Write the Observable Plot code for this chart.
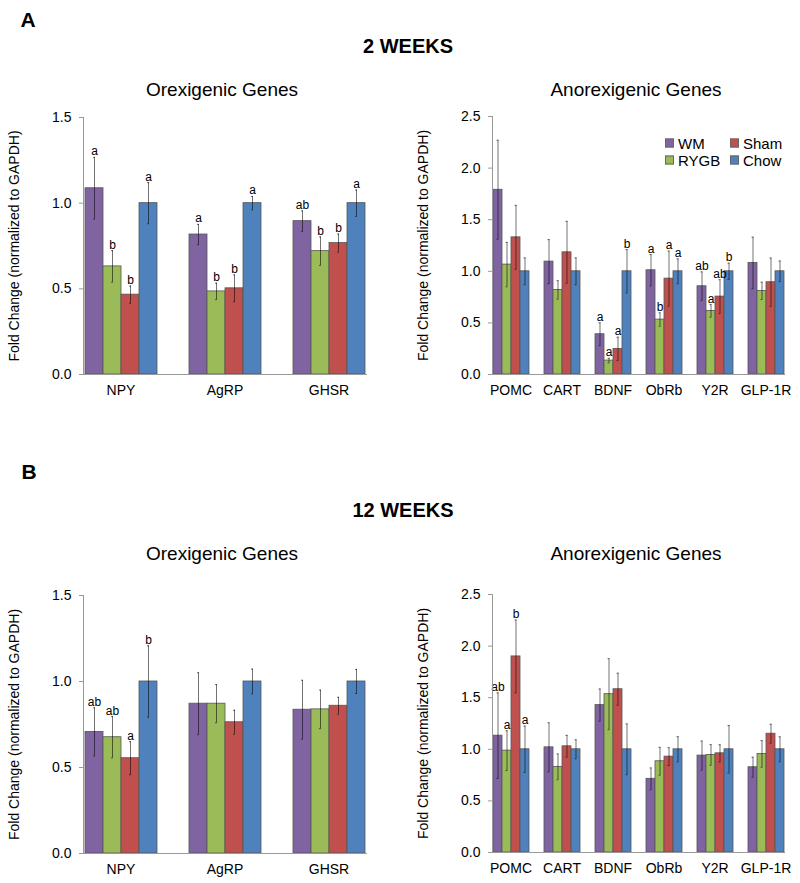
<!DOCTYPE html>
<html><head><meta charset="utf-8">
<script src="https://cdn.jsdelivr.net/npm/d3@7"></script>
<script src="https://cdn.jsdelivr.net/npm/@observablehq/plot@0.6"></script>
<style>
body{margin:0;background:#fff;font-family:"Liberation Sans",Arial,sans-serif;}
#wrap{position:relative;width:800px;height:883px;overflow:hidden;background:#fff;}
.t{position:absolute;white-space:nowrap;color:#000;transform:translate(-50%,-50%);line-height:1;}
.panel{position:absolute;}
.lg{position:absolute;font-size:15px;line-height:1;color:#000;display:flex;align-items:center;transform:translateY(-50%);}
.lg span{display:inline-block;width:7px;height:7px;border:1px solid #666;margin-right:4px;}
</style></head><body><div id="wrap"></div>
<script>
const groups = ["WM", "RYGB", "Sham", "Chow"];
const groupColors = ["#8064A2", "#9BBB59", "#C0504D", "#4F81BD"];
const orexGenes = ["NPY", "AgRP", "GHSR"];
const anorexGenes = ["POMC", "CART", "BDNF", "ObRb", "Y2R", "GLP-1R"];
const yLabel = "Fold Change (normalized to GAPDH)";

// 2 weeks, orexigenic (rows = genes, columns = WM, RYGB, Sham, Chow)
const orex2Mean = [[1.087, 0.631, 0.466, 1.0], [0.817, 0.485, 0.503, 1.0], [0.895, 0.72, 0.767, 1.0]];
const orex2SE = [[0.18, 0.092, 0.05, 0.12], [0.059, 0.048, 0.078, 0.039], [0.06, 0.083, 0.053, 0.077]];
const orex2Letters = [["a", "b", "b", "a"], ["a", "b", "b", "a"], ["ab", "b", "b", "a"]];

// 2 weeks, anorexigenic
const anorex2Mean = [[1.79, 1.065, 1.329, 1.0], [1.094, 0.819, 1.184, 1.0], [0.39, 0.135, 0.248, 1.0],
  [1.01, 0.532, 0.929, 1.0], [0.855, 0.616, 0.755, 1.0], [1.081, 0.81, 0.894, 1.0]];
const anorex2SE = [[0.48, 0.215, 0.31, 0.13], [0.213, 0.09, 0.3, 0.13], [0.11, 0.022, 0.113, 0.21],
  [0.152, 0.065, 0.267, 0.12], [0.139, 0.061, 0.163, 0.079], [0.25, 0.084, 0.234, 0.1]];
const anorex2Letters = [["", "", "", ""], ["", "", "", ""], ["a", "a", "a", "b"],
  ["a", "b", "a", "a"], ["ab", "a", "ab", "b"], ["", "", "", ""]];

// 12 weeks, orexigenic
const orex12Mean = [[0.707, 0.676, 0.554, 1.0], [0.871, 0.871, 0.763, 1.0], [0.836, 0.838, 0.859, 1.0]];
const orex12SE = [[0.14, 0.12, 0.096, 0.208], [0.18, 0.111, 0.07, 0.072], [0.171, 0.112, 0.049, 0.07]];
const orex12Letters = [["ab", "ab", "a", "b"], ["", "", "", ""], ["", "", "", ""]];

// 12 weeks, anorexigenic
const anorex12Mean = [[1.132, 0.987, 1.9, 1.0], [1.019, 0.83, 1.029, 1.0], [1.428, 1.534, 1.582, 1.0],
  [0.714, 0.884, 0.929, 1.0], [0.939, 0.945, 0.961, 1.0], [0.826, 0.955, 1.151, 1.0]];
const anorex12SE = [[0.415, 0.193, 0.353, 0.225], [0.238, 0.125, 0.106, 0.092], [0.156, 0.344, 0.155, 0.246],
  [0.105, 0.135, 0.086, 0.122], [0.141, 0.1, 0.083, 0.231], [0.097, 0.129, 0.092, 0.121]];
const anorex12Letters = [["ab", "a", "b", "a"], ["", "", "", ""], ["", "", "", ""],
  ["", "", "", ""], ["", "", "", ""], ["", "", "", ""]];

const wrap = document.getElementById("wrap");

function addText(txt, x, y, size, bold) {
  const d = document.createElement("div");
  d.className = "t";
  d.textContent = txt;
  d.style.left = x + "px";
  d.style.top = y + "px";
  d.style.fontSize = size + "px";
  d.style.fontWeight = bold ? "bold" : "normal";
  wrap.appendChild(d);
}

function panel(o) {
  const rows = [];
  o.genes.forEach((g, i) => groups.forEach((grp, j) => rows.push({
    gene: g, group: grp, mean: o.means[i][j], se: o.ses[i][j], letter: o.letters[i][j]
  })));
  const errStyle = {stroke: "#000", strokeOpacity: 0.55, strokeWidth: 1};
  const chart = Plot.plot({
    width: o.width, height: o.height,
    marginLeft: o.mL, marginRight: o.mR, marginTop: o.mT, marginBottom: o.mB,
    style: {fontFamily: "Liberation Sans, Arial, sans-serif", fontSize: "14px", color: "#000", background: "transparent", overflow: "visible"},
    fx: {domain: o.genes, paddingInner: o.pin, paddingOuter: o.pout, label: null, tickSize: 0, tickPadding: 11},
    x: {domain: groups, axis: null, padding: 0},
    y: {domain: [0, o.ymax], ticks: d3.range(0, o.ymax + 0.01, 0.5), tickFormat: ".1f", tickSize: 4, tickPadding: 8,
        label: yLabel, labelAnchor: "center", labelArrow: "none", labelOffset: 74},
    color: {domain: groups, range: groupColors},
    marks: [
      Plot.barY(rows, {fx: "gene", x: "group", y: "mean", fill: "group", stroke: "#555", strokeWidth: 0.8}),
      Plot.ruleX(rows, {fx: "gene", x: "group", y1: d => d.mean - d.se, y2: d => d.mean + d.se, ...errStyle}),
      Plot.tickY(rows, {fx: "gene", x: "group", y: d => d.mean + d.se, inset: o.capInset, ...errStyle}),
      Plot.tickY(rows, {fx: "gene", x: "group", y: d => d.mean - d.se, inset: o.capInset, ...errStyle}),
      Plot.text(rows.filter(d => d.letter), {fx: "gene", x: "group", y: d => d.mean + d.se, text: "letter",
        lineAnchor: "bottom", dy: -2, fontSize: 12, fill: "#000"}),
      Plot.frame({anchor: "left", facet: "super", stroke: "#999"}),
      Plot.frame({anchor: "bottom", facet: "super", stroke: "#999"})
    ]
  });
  chart.classList.add("panel");
  chart.style.left = o.left + "px";
  chart.style.top = o.top + "px";
  d3.select(chart).selectAll('g[aria-label="y-axis tick"] path').attr("stroke", "#999");
  wrap.appendChild(chart);
}

addText("A", 28, 19, 21, true);
addText("2 WEEKS", 408, 46, 20, true);
addText("Orexigenic Genes", 222, 89, 19, false);
addText("Anorexigenic Genes", 636, 89, 19, false);
addText("B", 29, 471, 21, true);
addText("12 WEEKS", 403, 510, 20, true);
addText("Orexigenic Genes", 222, 553, 19, false);
addText("Anorexigenic Genes", 636, 553, 19, false);

panel({genes: orexGenes, means: orex2Mean, ses: orex2SE, letters: orex2Letters, ymax: 1.5,
  left: 0, top: 100, width: 390, height: 305, mL: 68, mR: 10, mT: 17, mB: 31, pin: 0.28, pout: 0.14, capInset: 8});
panel({genes: anorexGenes, means: anorex2Mean, ses: anorex2SE, letters: anorex2Letters, ymax: 2.5,
  left: 400, top: 100, width: 400, height: 305, mL: 85, mR: 8, mT: 16, mB: 31, pin: 0.27, pout: 0.135, capInset: 3.5});
panel({genes: orexGenes, means: orex12Mean, ses: orex12SE, letters: orex12Letters, ymax: 1.5,
  left: 0, top: 578, width: 390, height: 305, mL: 68, mR: 10, mT: 17, mB: 30, pin: 0.28, pout: 0.14, capInset: 8});
panel({genes: anorexGenes, means: anorex12Mean, ses: anorex12SE, letters: anorex12Letters, ymax: 2.5,
  left: 400, top: 578, width: 400, height: 305, mL: 85, mR: 8, mT: 16, mB: 31, pin: 0.27, pout: 0.135, capInset: 3.5});

// legend
const legendPos = [[665, 143], [665, 160], [730, 143], [730, 160]];
groups.forEach((g, i) => {
  const d = document.createElement("div");
  d.className = "lg";
  d.style.left = legendPos[i][0] + "px";
  d.style.top = legendPos[i][1] + "px";
  const s = document.createElement("span");
  s.style.background = groupColors[i];
  d.appendChild(s);
  d.appendChild(document.createTextNode(g));
  wrap.appendChild(d);
});
</script></body></html>
